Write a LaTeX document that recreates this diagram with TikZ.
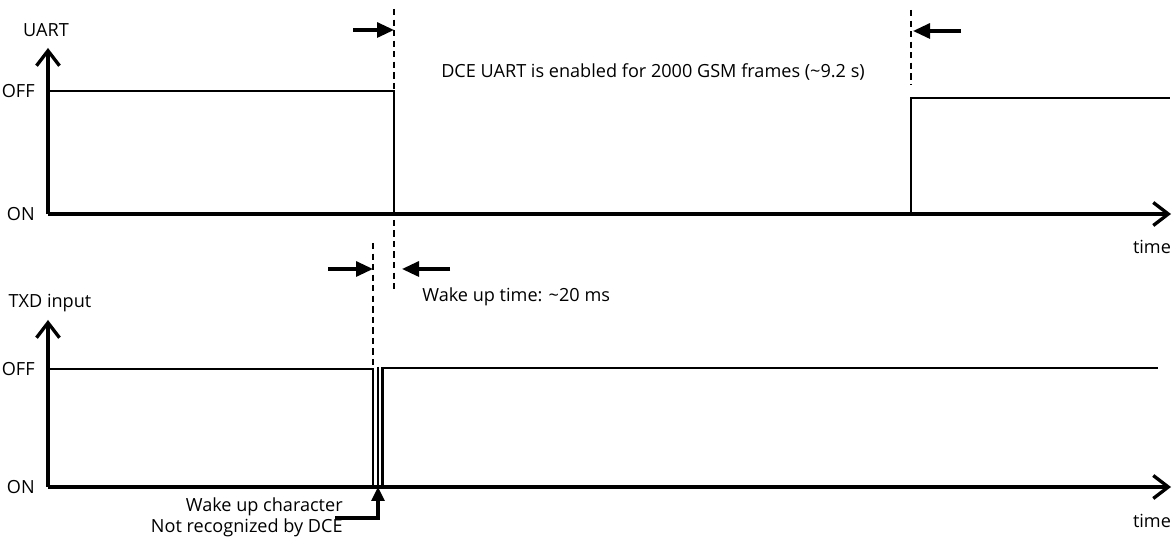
\documentclass[tikz,border=0pt]{standalone}
\usepackage{fontspec}
\setmainfont{Open Sans}
\usetikzlibrary{arrows.meta}

\begin{document}
\begin{tikzpicture}[x=1cm,y=1cm,
  axis/.style={line width=2.1pt,-{Straight Barb[length=0.3cm,width=0.46cm,line width=1.9pt]}},
  sig/.style={line width=1.5pt},
  guide/.style={line width=1.4pt,dash pattern=on 3.6pt off 2.4pt},
  gap/.style={line width=1.8pt,-{Triangle[length=0.34cm,width=0.3cm]}},
  lbl/.style={font=\fontsize{10.3}{12}\selectfont,inner sep=0pt}]
  \useasboundingbox (0,0) rectangle (23.46,10.8);
  % UART
  \coordinate (uo) at (0.96,6.52);
  \coordinate (uy) at (0.96,9.84);
  \coordinate (ux) at (23.42,6.52);
  \coordinate (u1) at (0.96,8.98);
  \coordinate (u2) at (7.88,8.98);
  \coordinate (u3) at (7.88,6.52);
  \coordinate (u4) at (18.22,6.52);
  \coordinate (u5) at (18.22,8.84);
  \coordinate (u6) at (23.4,8.84);
  \draw[axis] (uo) -- (uy);
  \draw[axis] (uo) -- (ux);
  \draw[sig] (u1) -- (u2) -- (u3);
  \draw[sig] (u4) -- (u5) -- (u6);
  \node[lbl] (uname) at (0.92,10.2) {UART};
  \node[lbl,anchor=east] (uoff) at (0.7,8.98) {OFF};
  \node[lbl,anchor=east] (uon) at (0.7,6.52) {ON};
  \node[lbl] (utime) at (23.04,5.86) {time};
  % enabled window
  \coordinate (g1a) at (7.88,10.62);
  \coordinate (g1b) at (7.88,5.02);
  \coordinate (g2a) at (18.22,10.6);
  \coordinate (g2b) at (18.22,9.1);
  \coordinate (a1) at (7.06,10.2);
  \coordinate (a1t) at (7.88,10.2);
  \coordinate (a2) at (19.22,10.18);
  \coordinate (a2t) at (18.26,10.18);
  \draw[guide] (g1a) -- (g1b);
  \draw[guide] (g2a) -- (g2b);
  \draw[gap] (a1) -- (a1t);
  \draw[gap] (a2) -- (a2t);
  \node[lbl] (enabled) at (13.06,9.36) {DCE UART is enabled for 2000 GSM frames (\char`~9.2 s)};
  % TXD input
  \coordinate (to) at (0.96,1.06);
  \coordinate (ty) at (0.96,4.4);
  \coordinate (tx) at (23.42,1.06);
  \coordinate (t1) at (0.96,3.42);
  \coordinate (t2) at (7.46,3.42);
  \coordinate (t3) at (7.46,1.06);
  \coordinate (p1a) at (7.56,3.46);
  \coordinate (p1b) at (7.56,1.06);
  \coordinate (p2a) at (7.65,1.06);
  \coordinate (p2b) at (7.65,3.44);
  \coordinate (t4) at (23.16,3.44);
  \draw[axis] (to) -- (ty);
  \draw[axis] (to) -- (tx);
  \draw[sig] (t1) -- (t2) -- (t3);
  \draw[sig] (p1a) -- (p1b);
  \draw[sig] (p2a) -- (p2b) -- (t4);
  \node[lbl] (tname) at (1.0,4.74) {TXD input};
  \node[lbl,anchor=east] (toff) at (0.7,3.42) {OFF};
  \node[lbl,anchor=east] (ton) at (0.7,1.06) {ON};
  \node[lbl] (ttime) at (23.04,0.38) {time};
  % wake up time
  \coordinate (g3a) at (7.46,5.94);
  \coordinate (g3b) at (7.46,3.42);
  \coordinate (a3) at (6.56,5.42);
  \coordinate (a3t) at (7.46,5.42);
  \coordinate (a4) at (9.0,5.42);
  \coordinate (a4t) at (8.04,5.42);
  \draw[guide] (g3a) -- (g3b);
  \draw[gap] (a3) -- (a3t);
  \draw[gap] (a4) -- (a4t);
  \node[lbl,anchor=west] (wake) at (8.44,4.86) {Wake up time: \char`~20 ms};
  % wake up character
  \node[lbl,anchor=east] (wchar) at (6.86,0.66) {Wake up character};
  \node[lbl,anchor=east] (wnot) at (6.86,0.24) {Not recognized by DCE};
  \coordinate (c1) at (6.7,0.44);
  \coordinate (c2) at (7.56,0.44);
  \coordinate (c3) at (7.56,1.06);
  \draw[line width=1.8pt,-{Triangle[length=0.28cm,width=0.26cm]}] (c1) -- (c2) -- (c3);
\end{tikzpicture}
\end{document}
